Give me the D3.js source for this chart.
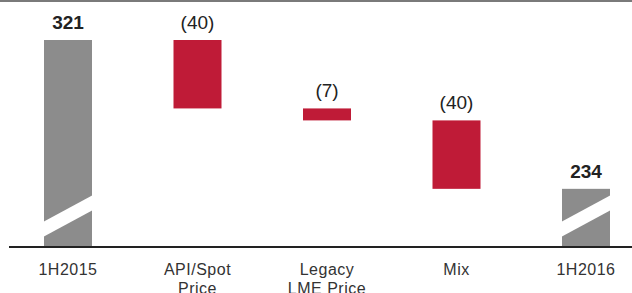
<!DOCTYPE html>
<html>
<head>
<meta charset="utf-8">
<script src="https://cdn.jsdelivr.net/npm/d3@7"></script>
<style>
  body { margin: 0; background: #fff; }
  svg { display: block; font-family: "Liberation Sans", Arial, Helvetica, sans-serif; }
</style>
</head>
<body>
<svg id="chart" width="632" height="293"></svg>
<script>
// chart data
const categories = ["1H2015", "API/Spot\nPrice", "Legacy\nLME Price", "Mix", "1H2016"];
const values = [321, -40, -7, -40, 234];
const kinds = ["total", "delta", "delta", "delta", "total"];
const valueLabels = ["321", "(40)", "(7)", "(40)", "234"];

const width = 632, height = 293;
const baseY = 247;
const barW = 48;

let svg = d3.select("#chart");

// x positions of the bars
let x = d3.scalePoint()
    .domain(categories)
    .range([68, 586]);

// broken axis, bottom starts at 200
let y = d3.scaleLinear()
    .domain([200, 321])
    .range([baseY, 40]);

// build waterfall steps
let running = 0;
let steps = categories.map((c, i) => {
    let s;
    if (kinds[i] === "total") {
        running = values[i];
        s = { cat: c, from: 200, to: values[i], kind: "total", label: valueLabels[i] };
    } else {
        let start = running;
        running = running + values[i];
        s = { cat: c, from: running, to: start, kind: "delta", label: valueLabels[i] };
    }
    return s;
});

// top rule
svg.append("rect")
    .attr("x", 0).attr("y", 0)
    .attr("width", width).attr("height", 2)
    .attr("fill", "#7a7a7a");

// bars
svg.append("g").selectAll("rect")
    .data(steps)
    .enter().append("rect")
    .attr("x", d => x(d.cat) - barW / 2)
    .attr("y", d => y(d.to))
    .attr("width", barW)
    .attr("height", d => y(d.from) - y(d.to))
    .attr("fill", d => d.kind === "total" ? "#8c8c8c" : "#bf1b37");

// axis break marks on the total bars
svg.append("g").selectAll("path")
    .data(steps.filter(d => d.kind === "total"))
    .enter().append("path")
    .attr("d", d => {
        let l = x(d.cat) - barW / 2 - 1, r = x(d.cat) + barW / 2 + 1;
        return `M${l},${baseY - 25} L${r},${baseY - 52} L${r},${baseY - 37} L${l},${baseY - 10} Z`;
    })
    .attr("fill", "#fff");

// value labels
svg.append("g").selectAll("text")
    .data(steps)
    .enter().append("text")
    .attr("x", d => x(d.cat))
    .attr("y", d => y(d.to) - 11)
    .attr("text-anchor", "middle")
    .attr("font-size", 19)
    .attr("font-weight", d => d.kind === "total" ? "bold" : "normal")
    .attr("fill", "#222")
    .text(d => d.label);

// baseline
svg.append("line")
    .attr("x1", 9).attr("x2", width)
    .attr("y1", baseY).attr("y2", baseY)
    .attr("stroke", "#222")
    .attr("stroke-width", 2);

// category labels
let catText = svg.append("g").selectAll("text")
    .data(categories)
    .enter().append("text")
    .attr("x", d => x(d))
    .attr("y", 275)
    .attr("text-anchor", "middle")
    .attr("font-size", 16)
    .attr("letter-spacing", 0.5)
    .attr("fill", "#333");

catText.selectAll("tspan")
    .data(d => d.split("\n").map(t => ({ t, c: d })))
    .enter().append("tspan")
    .attr("x", d => x(d.c))
    .attr("dy", (d, i) => i === 0 ? 0 : 19)
    .text(d => d.t);
</script>
</body>
</html>
